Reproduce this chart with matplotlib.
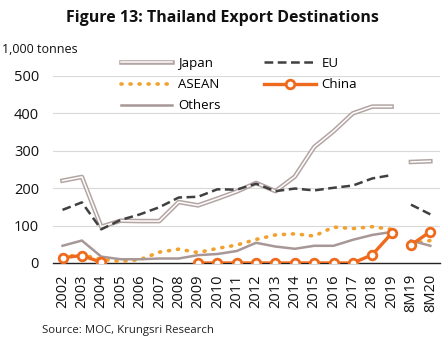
import matplotlib
matplotlib.use("Agg")
import matplotlib.pyplot as plt
import matplotlib.patheffects as pe
import numpy as np

plt.rcParams['font.family'] = ['Open Sans', 'DejaVu Sans']

categories = ['2002', '2003', '2004', '2005', '2006', '2007', '2008', '2009', '2010',
              '2011', '2012', '2013', '2014', '2015', '2016', '2017', '2018', '2019',
              '8M19', '8M20']
japan = [220, 230, 97, 113, 112, 112, 163, 154, 172, 191, 214, 192, 231, 310, 352, 400, 418, 418, 270, 272]
eu = [142, 162, 90, 115, 130, 149, 175, 177, 197, 196, 212, 192, 199, 194, 201, 207, 226, 235, 156, 130]
asean = [17, 22, 10, 4, 9, 29, 37, 28, 39, 48, 63, 75, 78, 72, 96, 92, 97, 90, 52, 60]
china = [14, 20, 2, np.nan, np.nan, np.nan, np.nan, 0, 0, 0, 0, 0, 0, 0, 0, 0, 22, 79, 48, 84]
others = [46, 60, 17, 10, 10, 12, 12, 21, 24, 32, 54, 44, 38, 46, 46, 62, 75, 83, 60, 46]

fig = plt.figure(figsize=(4.44, 3.42), dpi=100)
ax = fig.add_axes([0.119, 0.231, 0.872, 0.547])

x = np.arange(len(categories))
segs = [slice(0, 18), slice(18, 20)]

def plot_series(vals, **kw):
    vals = np.array(vals, dtype=float)
    label = kw.pop('label', None)
    h = None
    for i, s in enumerate(segs):
        l, = ax.plot(x[s], vals[s], label=label if i == 0 else None, **kw)
        if h is None:
            h = l
    return h

h_japan = plot_series(japan, color='white', lw=1.1, label='Japan', zorder=3,
                      path_effects=[pe.Stroke(linewidth=3.3, foreground='#b3a5a3'), pe.Normal()])
h_eu = plot_series(eu, color='#404040', lw=1.8, ls=(0, (3.5, 1.8)), label='EU', zorder=3)
h_asean = plot_series(asean, color='#f2a12e', lw=2.6, ls=(0, (0.3, 2.2)), dash_capstyle='round',
                      label='ASEAN', zorder=2)
h_others = plot_series(others, color='#a89797', lw=1.8, label='Others', zorder=2)
h_china = plot_series(china, color='#ee6a1c', lw=2.4, marker='o', ms=6.2, mfc='white',
                      mec='#ee6a1c', mew=2.0, label='China', zorder=4)

ax.set_xlim(-0.5, 19.5)
ax.set_ylim(0, 500)
ax.set_yticks([0, 100, 200, 300, 400, 500])
ax.set_xticks(x)
ax.set_xticklabels(categories, rotation=90, fontsize=10.5, color='#111111')
ax.tick_params(axis='y', labelsize=10.5, length=0, pad=10, labelcolor='#111111')
ax.tick_params(axis='x', length=0, pad=8)
ax.grid(axis='y', color='#d9d9d9', lw=0.8)
ax.set_axisbelow(True)
for s in ['top', 'right', 'left']:
    ax.spines[s].set_visible(False)
ax.spines['bottom'].set_color('#222222')
ax.spines['bottom'].set_linewidth(1.0)
ax.spines['bottom'].set_zorder(1)

leg = fig.legend([h_japan, h_asean, h_others, h_eu, h_china],
                 ['Japan', 'ASEAN', 'Others', 'EU', 'China'],
                 ncol=2, frameon=False, fontsize=9.5, handlelength=3.9,
                 columnspacing=3.3, labelspacing=0.62, handletextpad=0.45,
                 loc='upper left', bbox_to_anchor=(0.245, 0.868))

fig.text(0.5, 0.947, 'Figure 13: Thailand Export Destinations', ha='center', va='center',
         fontsize=11.5, fontweight='bold', color='#111111')
fig.text(0.004, 0.855, '1,000 tonnes', ha='left', va='center', fontsize=9, color='#111111')
fig.text(0.095, 0.035, 'Source: MOC, Krungsri Research', ha='left', va='center',
         fontsize=8.2, color='#222222')

fig.savefig('out.png', dpi=100)
